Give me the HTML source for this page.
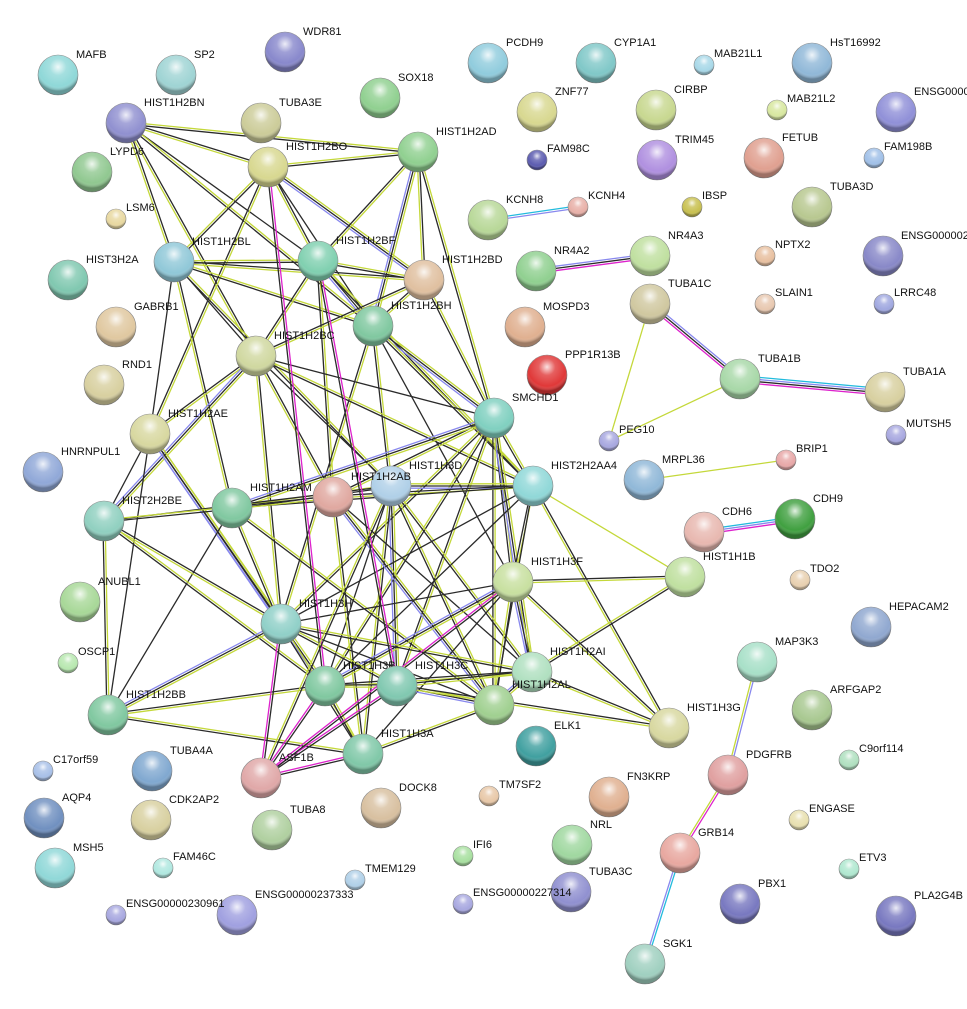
<!DOCTYPE html>
<html><head><meta charset="utf-8"><style>
html,body{margin:0;padding:0;background:#fff;width:967px;height:1009px;overflow:hidden}
svg text{font-family:"Liberation Sans",sans-serif;font-size:11px;fill:#111}
</style></head><body>
<svg id="s" width="967" height="1009" xmlns="http://www.w3.org/2000/svg">
<defs>
<radialGradient id="hl" cx="0.5" cy="0.3" r="0.6">
<stop offset="0" stop-color="#fff" stop-opacity="0.85"/>
<stop offset="0.35" stop-color="#fff" stop-opacity="0.2"/>
<stop offset="0.8" stop-color="#fff" stop-opacity="0"/>
<stop offset="1" stop-color="#000" stop-opacity="0.3"/>
</radialGradient>
</defs>
<g id="e"></g><g id="n"></g>
</svg>
<script>
var N={
MAFB:[58,75,20,'#8fd8d8'],SP2:[176,75,20,'#9fd4d4'],WDR81:[285,52,20,'#8888cc'],PCDH9:[488,63,20,'#90ccdd'],
CYP1A1:[596,63,20,'#80c8c8'],MAB21L1:[704,65,10,'#a8d8e8'],HsT16992:[812,63,20,'#90b8d8'],ENSG00000a:[896,112,20,'#9090d8','ENSG00000'],
HIST1H2BN:[126,123,20,'#9090d0'],TUBA3E:[261,123,20,'#cccc99'],SOX18:[380,98,20,'#90d090'],HIST1H2AD:[418,152,20,'#90d090'],
ZNF77:[537,112,20,'#d8d890'],CIRBP:[656,110,20,'#c8d890'],MAB21L2:[777,110,10,'#d8e8a0'],LYPD6:[92,172,20,'#90c890'],
HIST1H2BO:[268,167,20,'#d8d890'],FAM98C:[537,160,10,'#5c5cb0'],TRIM45:[657,160,20,'#b090e0'],FETUB:[764,158,20,'#e0a090'],
FAM198B:[874,158,10,'#a0c0e8'],LSM6:[116,219,10,'#e8d8a0'],IBSP:[692,207,10,'#c8c050'],TUBA3D:[812,207,20,'#b8c890'],
KCNH8:[488,220,20,'#b8d898'],KCNH4:[578,207,10,'#e8b0a8'],HIST3H2A:[68,280,20,'#80c8b0'],HIST1H2BL:[174,262,20,'#90c8d8'],
HIST1H2BF:[318,261,20,'#80d0b0'],HIST1H2BD:[424,280,20,'#e0c0a0'],NR4A2:[536,271,20,'#90d090'],NR4A3:[650,256,20,'#c0e0a0'],
NPTX2:[765,256,10,'#e8c0a0'],ENSG00000b:[883,256,20,'#8888c8','ENSG000002'],GABRB1:[116,327,20,'#e0c8a0'],HIST1H2BH:[373,326,20,'#80c8a0'],
MOSPD3:[525,327,20,'#e0b090'],TUBA1C:[650,304,20,'#d0c8a0'],SLAIN1:[765,304,10,'#e8c8b0'],LRRC48:[884,304,10,'#a0a8e0'],
HIST1H2BC:[256,356,20,'#d0d8a0'],RND1:[104,385,20,'#d8d0a0'],PPP1R13B:[547,375,20,'#e03838'],TUBA1B:[740,379,20,'#a8d8a8'],
TUBA1A:[885,392,20,'#d8d0a0'],SMCHD1:[494,418,20,'#80d0c0'],HIST1H2AE:[150,434,20,'#d8d8a0'],PEG10:[609,441,10,'#a8a8e0'],
MUTSH5:[896,435,10,'#a8a8e0'],HNRNPUL1:[43,472,20,'#90a8d8'],HIST1H3D:[391,486,20,'#b0d0e8'],HIST2H2AA4:[533,486,20,'#90d8d8'],
MRPL36:[644,480,20,'#90b8d8'],BRIP1:[786,460,10,'#e8a8a8'],HIST1H2AB:[333,497,20,'#e0a8a0'],HIST1H2AM:[232,508,20,'#80c8a0'],
HIST2H2BE:[104,521,20,'#90d0c0'],CDH6:[704,532,20,'#e8b8b0'],CDH9:[795,519,20,'#40a040'],HIST1H1B:[685,577,20,'#c0e0a0'],
HIST1H3F:[513,582,20,'#c8e0a0'],TDO2:[800,580,10,'#e8d0b0'],ANUBL1:[80,602,20,'#a8d898'],HEPACAM2:[871,627,20,'#90a8d0'],
HIST1H3H:[281,624,20,'#90d0c8'],OSCP1:[68,663,10,'#b8e8b0'],MAP3K3:[757,662,20,'#a8e0c8'],HIST1H2AI:[532,672,20,'#b0e0c0'],
HIST1H3B:[325,686,20,'#80c8a0'],HIST1H3C:[397,686,20,'#80c8b0'],HIST1H2AL:[494,705,20,'#a0d090'],HIST1H2BB:[108,715,20,'#80c8a0'],
ARFGAP2:[812,710,20,'#a8c890'],HIST1H3G:[669,728,20,'#d8d8a0'],HIST1H3A:[363,754,20,'#80c8a8'],ELK1:[536,746,20,'#40a0a0'],
C9orf114:[849,760,10,'#b0e0c0'],C17orf59:[43,771,10,'#a8c0e8'],TUBA4A:[152,771,20,'#80a8d0'],ASF1B:[261,778,20,'#e0a8a8'],
PDGFRB:[728,775,20,'#e0a0a0'],TM7SF2:[489,796,10,'#e8c8a8'],AQP4:[44,818,20,'#7090c0'],CDK2AP2:[151,820,20,'#d8d0a0'],
DOCK8:[381,808,20,'#d8c0a0'],FN3KRP:[609,797,20,'#e0b090'],ENGASE:[799,820,10,'#e8e0b0'],TUBA8:[272,830,20,'#b0d0a0'],
NRL:[572,845,20,'#a0d8a0'],IFI6:[463,856,10,'#a8e0a0'],GRB14:[680,853,20,'#e8a8a0'],MSH5:[55,868,20,'#90d8d8'],
FAM46C:[163,868,10,'#b0e8e0'],ETV3:[849,869,10,'#b0e8d0'],TMEM129:[355,880,10,'#b0d0e8'],TUBA3C:[571,892,20,'#9090d0'],
ENSG00000237333:[237,915,20,'#a0a0e0'],ENSG00000230961:[116,915,10,'#a8a8e0'],ENSG00000227314:[463,904,10,'#a8a8e0'],
PBX1:[740,904,20,'#7878c0'],PLA2G4B:[896,916,20,'#7878c0'],SGK1:[645,964,20,'#a0d0c0']};
var E=document.getElementById('e'),G=document.getElementById('n'),NS='http://www.w3.org/2000/svg';
function ln(a,b,cols){var A=N[a],B=N[b];var dx=B[0]-A[0],dy=B[1]-A[1],L=Math.hypot(dx,dy),px=-dy/L,py=dx/L;
var k=cols.length;for(var i=0;i<k;i++){var o=(i-(k-1)/2)*2.2;var l=document.createElementNS(NS,'line');
l.setAttribute('x1',A[0]+px*o);l.setAttribute('y1',A[1]+py*o);l.setAttribute('x2',B[0]+px*o);l.setAttribute('y2',B[1]+py*o);
l.setAttribute('stroke',cols[i]);l.setAttribute('stroke-width',1.3);E.appendChild(l);}}
var Y='#c4d83a',K='#2a2a2a',B='#8888ee',M='#dd22cc',C='#22bbdd';
var H=['HIST1H2BN','HIST1H2BO','HIST1H2AD','HIST1H2BL','HIST1H2BF','HIST1H2BD','HIST1H2BH','HIST1H2BC','HIST1H2AE','SMCHD1','HIST1H3D','HIST2H2AA4','HIST1H2AB','HIST1H2AM','HIST2H2BE','HIST1H3F','HIST1H3H','HIST1H2AI','HIST1H3B','HIST1H3C','HIST1H2AL','HIST1H2BB','HIST1H3A'];
var seed=7;function rnd(){seed=(seed*9301+49297)%233280;return seed/233280;}
for(var i=0;i<H.length;i++)for(var j=i+1;j<H.length;j++){var A=N[H[i]],Bn=N[H[j]];var d=Math.hypot(A[0]-Bn[0],A[1]-Bn[1]);
if(d<330&&rnd()<0.6){var r=rnd();ln(H[i],H[j],r<0.2?[Y,K,B]:(r<0.5?[Y,K]:(r<0.8?[K,Y]:[K])));}}
[['HIST1H2BO','HIST1H3B'],['HIST1H2BF','HIST1H3C'],['ASF1B','HIST1H3B'],['ASF1B','HIST1H3C'],['ASF1B','HIST1H3H'],['ASF1B','HIST1H3A'],['ASF1B','HIST1H3F']].forEach(function(p){ln(p[0],p[1],[M,K]);});
[['ASF1B','HIST1H3D'],['HIST1H3G','HIST1H2AI'],['HIST1H3G','HIST1H3C'],['HIST1H3G','HIST1H3F'],['HIST1H3G','HIST2H2AA4']].forEach(function(p){ln(p[0],p[1],[Y,K]);});
ln('HIST2H2AA4','HIST1H1B',[Y]);ln('HIST1H3F','HIST1H1B',[K,Y]);ln('HIST1H2AI','HIST1H1B',[Y,K]);
ln('KCNH8','KCNH4',[C,B]);ln('NR4A2','NR4A3',[B,K,M]);ln('TUBA1C','TUBA1B',[B,K,M]);ln('TUBA1B','TUBA1A',[C,B,K,M]);
ln('TUBA1C','PEG10',[Y]);ln('TUBA1B','PEG10',[Y]);ln('MRPL36','BRIP1',[Y]);ln('CDH6','CDH9',[C,B,M]);
ln('MAP3K3','PDGFRB',[B,Y]);ln('PDGFRB','GRB14',[M,Y]);ln('GRB14','SGK1',[C,B]);
for(var k in N){var v=N[k];var c=document.createElementNS(NS,'circle');c.setAttribute('cx',v[0]);c.setAttribute('cy',v[1]);c.setAttribute('r',v[2]);
c.setAttribute('fill',v[3]);c.setAttribute('stroke','#888');c.setAttribute('stroke-width',0.6);G.appendChild(c);
var h=c.cloneNode();h.setAttribute('fill','url(#hl)');h.setAttribute('stroke','none');G.appendChild(h);
var t=document.createElementNS(NS,'text');t.setAttribute('x',v[0]+(v[2]>15?18:10));t.setAttribute('y',v[1]-(v[2]>15?17:8));
t.textContent=v[4]||k;G.appendChild(t);}
</script>
</body></html>
